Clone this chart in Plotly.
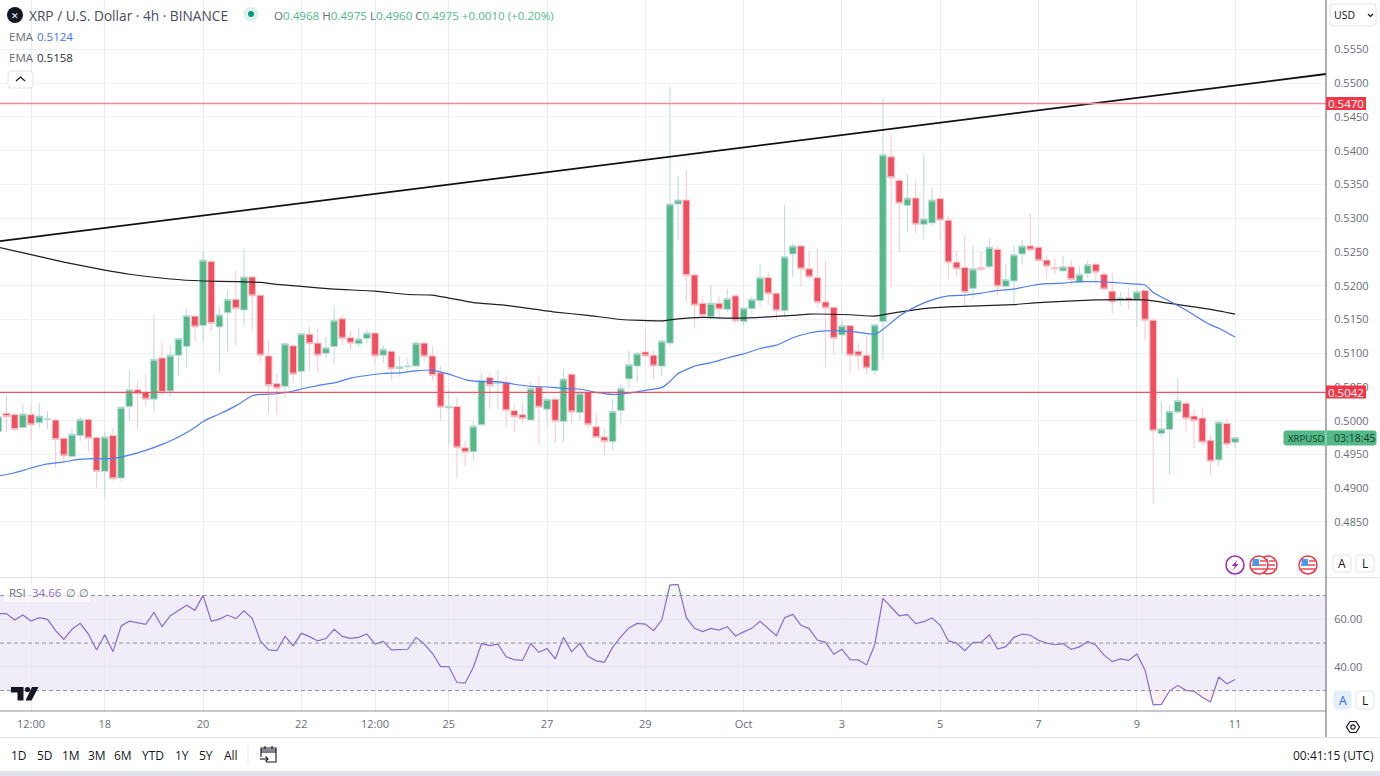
import pandas as pd
import plotly.graph_objects as go

W, H = 1380, 776

START = "2023-09-15 20:00"
OPEN = [
 .4984,.5011,.5009,.4990,.5009,.4997,.5002,.5001,.4974,.4947,
 .4978,.5002,.4975,.4925,.4978,.4915,.5021,.5046,.5042,.5032,
 .5093,.5044,.5097,.5110,.5155,.5141,.5236,.5139,.5160,.5180,
 .5164,.5213,.5186,.5096,.5055,.5051,.5111,.5073,.5128,.5115,
 .5100,.5110,.5151,.5123,.5114,.5122,.5130,.5097,.5103,.5077,
 .5080,.5081,.5115,.5096,.5071,.5019,.5021,.4960,.4954,.4994,
 .5064,.5055,.5057,.5015,.5009,.5001,.5050,.5017,.5032,.4999,
 .5069,.5012,.5042,.4991,.4976,.4969,.5015,.5062,.5081,.5102,
 .5097,.5081,.5115,.5321,.5327,.5216,.5174,.5154,.5174,.5165,
 .5185,.5147,.5166,.5178,.5212,.5189,.5163,.5247,.5259,.5225,
 .5212,.5176,.5168,.5127,.5141,.5103,.5097,.5074,.5147,.5391,
 .5356,.5319,.5330,.5291,.5293,.5329,.5297,.5235,.5227,.5196,
 .5227,.5228,.5254,.5199,.5207,.5247,.5259,.5257,.5238,.5227,
 .5222,.5228,.5205,.5218,.5232,.5217,.5192,.5178,.5182,.5179,
 .5193,.5149,.4981,.4987,.5013,.5026,.5007,.5004,.4971,.4942,
 .4996,.4968]
HIGH = [
 .5011,.5037,.5012,.5024,.5023,.5027,.5014,.5003,.4976,.4989,
 .5006,.5004,.4977,.4983,.4990,.5020,.5075,.5058,.5069,.5157,
 .5115,.5111,.5122,.5166,.5156,.5252,.5239,.5168,.5194,.5222,
 .5255,.5214,.5186,.5119,.5070,.5114,.5112,.5129,.5140,.5137,
 .5124,.5171,.5157,.5134,.5138,.5136,.5130,.5112,.5103,.5096,
 .5094,.5118,.5118,.5111,.5081,.5046,.5035,.4970,.5001,.5070,
 .5070,.5075,.5065,.5024,.5028,.5057,.5065,.5032,.5032,.5077,
 .5070,.5048,.5042,.5012,.4989,.5032,.5055,.5104,.5102,.5133,
 .5104,.5122,.5495,.5362,.5372,.5221,.5184,.5201,.5184,.5195,
 .5186,.5169,.5183,.5232,.5220,.5191,.5320,.5263,.5259,.5251,
 .5256,.5236,.5168,.5148,.5141,.5115,.5127,.5144,.5478,.5424,
 .5359,.5365,.5355,.5394,.5346,.5331,.5302,.5251,.5274,.5259,
 .5250,.5270,.5259,.5232,.5260,.5268,.5307,.5260,.5245,.5241,
 .5244,.5238,.5228,.5237,.5232,.5221,.5218,.5191,.5197,.5195,
 .5196,.5152,.5028,.5023,.5063,.5029,.5017,.5019,.4979,.4999,
 .5002,.4975]
LOW = [
 .4976,.4983,.4984,.4989,.4971,.4989,.4988,.4929,.4938,.4946,
 .4969,.4953,.4901,.4886,.4911,.4910,.5000,.4987,.5022,.5012,
 .5037,.5036,.5067,.5078,.5117,.5117,.5133,.5070,.5103,.5111,
 .5141,.5133,.5088,.5010,.5009,.5033,.5057,.5048,.5074,.5072,
 .5092,.5084,.5111,.5105,.5108,.5115,.5085,.5086,.5060,.5065,
 .5075,.5080,.5087,.5059,.5000,.4964,.4914,.4932,.4942,.4993,
 .5017,.5017,.4990,.4983,.4996,.5001,.4965,.4993,.4967,.4969,
 .4996,.5000,.4988,.4975,.4949,.4957,.4994,.5049,.5056,.5096,
 .5062,.5066,.5110,.5268,.5175,.5139,.5153,.5150,.5151,.5160,
 .5144,.5140,.5157,.5170,.5172,.5150,.5153,.5213,.5198,.5208,
 .5168,.5080,.5097,.5099,.5070,.5074,.5069,.5068,.5092,.5197,
 .5250,.5279,.5278,.5269,.5289,.5268,.5210,.5213,.5170,.5182,
 .5220,.5225,.5186,.5193,.5172,.5231,.5253,.5236,.5211,.5217,
 .5221,.5202,.5204,.5212,.5203,.5193,.5158,.5171,.5165,.5140,
 .5120,.4878,.4976,.4920,.5010,.4983,.4959,.4964,.4920,.4933,
 .4959,.4960]
CLOSE = [
 .5006,.5006,.4987,.5010,.4994,.5007,.5003,.4972,.4948,.4980,
 .5002,.4974,.4925,.4976,.4914,.5020,.5046,.5040,.5032,.5091,
 .5042,.5097,.5122,.5156,.5139,.5238,.5144,.5157,.5180,.5166,
 .5213,.5185,.5097,.5052,.5048,.5114,.5069,.5129,.5114,.5097,
 .5108,.5149,.5122,.5115,.5121,.5130,.5096,.5106,.5077,.5080,
 .5081,.5115,.5095,.5067,.5020,.5021,.4960,.4953,.4992,.5060,
 .5052,.5058,.5015,.5006,.5003,.5048,.5020,.5032,.4999,.5062,
 .5013,.5041,.4994,.4975,.4969,.5014,.5048,.5083,.5100,.5096,
 .5081,.5118,.5321,.5327,.5215,.5171,.5156,.5174,.5165,.5181,
 .5148,.5167,.5180,.5212,.5188,.5163,.5243,.5259,.5225,.5213,
 .5175,.5167,.5122,.5141,.5097,.5096,.5078,.5142,.5394,.5360,
 .5322,.5330,.5291,.5299,.5327,.5297,.5234,.5225,.5190,.5225,
 .5224,.5257,.5199,.5209,.5246,.5259,.5253,.5237,.5229,.5225,
 .5228,.5209,.5217,.5231,.5220,.5195,.5176,.5182,.5178,.5191,
 .5149,.4985,.4988,.5014,.5030,.5003,.5000,.4968,.4940,.4998,
 .4965,.4975]

EMA50_AT = [0,2,4,6,8,10,12,14,16,18,20,22,24,25,27,29,31,32,34,36,37,39,41,43,45,47,49,51,53,55,57,59,61,63,65,67,69,71,73,75,77,79,81,82,
            83,85,87,89,91,93,95,97,99,101,103,105,107,108,110,112,114,116,118,120,122,124,126,128,130,132,134,136,138,140,141,143,145,147,148,149,151]
EMA50 = [.4918,.4923,.4930,.4936,.4939,.4943,.4944,.4944,.4949,.4956,.4965,.4976,.4990,.4999,.5010,.5022,.5037,.5039,.5040,.5044,.5047,.5052,.5056,.5063,.5067,.5070,.5071,.5074,.5075,.5069,.5061,.5058,.5058,.5054,.5051,.5050,.5048,.5047,.5042,.5039,.5041,.5045,.5049,.5058,
         .5070,.5081,.5086,.5093,.5099,.5107,.5112,.5123,.5130,.5133,.5133,.5131,.5128,.5135,.5155,.5169,.5179,.5185,.5186,.5189,.5193,.5195,.5200,.5203,.5204,.5206,.5206,.5205,.5203,.5201,.5190,.5177,.5164,.5149,.5142,.5137,.5124]
EMA200_AT = [0,4,8,13,16,21,25,29,32,34,37,41,46,50,53,58,62,68,72,76,81,83,86,90,97,99,104,107,109,113,115,117,124,127,134,140,144,148,151]
EMA200 = [.5257,.5246,.5235,.5223,.5217,.5210,.5207,.5206,.5205,.5202,.5199,.5195,.5192,.5187,.5186,.5175,.5171,.5161,.5156,.5150,.5148,.5151,.5153,.5152,.5156,.5158,.5157,.5155,.5159,.5166,.5168,.5169,.5172,.5175,.5179,.5179,.5172,.5165,.5158]
RSI = [62.4,62.4,59.7,61.8,59.3,60.7,60.0,55.2,51.6,55.8,58.3,53.8,47.1,53.5,46.4,57.2,59.2,58.7,57.9,62.9,
       56.9,61.5,63.6,65.9,63.8,70.1,59.2,60.1,61.8,60.3,63.6,60.4,50.9,47.1,46.8,52.8,48.9,54.1,52.7,50.9,
       51.9,55.8,52.8,52.0,52.4,53.8,49.6,50.7,47.1,47.2,47.4,52.4,49.6,45.7,40.1,40.1,33.4,33.1,39.8,49.8,
       48.9,49.5,44.2,43.0,42.7,49.8,46.1,47.7,43.3,52.4,46.3,49.9,44.4,42.5,41.9,48.2,52.6,56.4,58.3,58.0,
       55.2,59.7,74.4,74.7,60.7,56.2,54.8,56.2,55.5,56.9,53.0,54.7,56.2,59.2,56.2,53.1,60.7,62.1,57.5,56.1,
       51.3,50.3,45.3,47.4,43.0,42.9,40.8,49.2,68.8,65.2,61.5,62.0,58.2,59.0,60.6,57.5,50.9,50.0,46.8,50.3,
       50.3,53.5,47.5,48.5,52.4,53.8,53.3,51.2,50.0,49.3,49.8,47.4,48.4,50.7,49.1,44.9,42.2,43.3,42.7,45.4,
       38.7,24.0,24.2,29.8,32.2,30.1,29.7,27.2,25.2,35.7,32.9,34.66]

TREND_DATES = ["2023-09-15 20:50", "2023-10-12 20:24"]
TREND_PRICES = [.5266, .55137]
LEVELS = [.5470, .5042]
LEVEL_LABELS = ["0.5470", "0.5042"]
PRICE_TICKS = [.4850,.4900,.4950,.5000,.5050,.5100,.5150,.5200,.5250,.5300,.5350,.5400,.5450,.5500,.5550]
RSI_TICKS = [40, 60]
RSI_BANDS = [70, 50, 30]
DATE_TICKS = ["2023-09-16 12:00","2023-09-18","2023-09-20","2023-09-22","2023-09-23 12:00","2023-09-25","2023-09-27",
              "2023-09-29","2023-10-01","2023-10-03","2023-10-05","2023-10-07","2023-10-09","2023-10-11"]
DATE_LABELS = ["12:00","18","20","22","12:00","25","27","29","Oct","3","5","7","9","11"]
RANGES = ["1D","5D","1M","3M","6M","YTD","1Y","5Y","All"]
RANGE_X = [19,45,71,97,123,153,182,206,231]

UP, DOWN = "#53b987", "#ef4f5f"
UP_WICK, DOWN_WICK = "#bcdadb", "#f9c6cc"
GRID = "#eef2f6"
FONT = "Open Sans"
TXT = "#6a6d78"

dates = pd.date_range(START, periods=len(OPEN), freq="4h")
ema50_x = [dates[i] for i in EMA50_AT]
ema200_x = [dates[i] for i in EMA200_AT]

fig = go.Figure()
fig.add_trace(go.Scatter(x=ema200_x, y=EMA200, mode="lines", line=dict(color="#1f1f24", width=1.2, shape="spline", smoothing=.4), xaxis="x", yaxis="y"))
fig.add_trace(go.Scatter(x=ema50_x, y=EMA50, mode="lines", line=dict(color="#4d7ef7", width=1.2, shape="spline", smoothing=.4), xaxis="x", yaxis="y"))
fig.add_trace(go.Candlestick(x=dates, open=OPEN, high=HIGH, low=LOW, close=CLOSE, xaxis="x", yaxis="y", whiskerwidth=0,
    increasing=dict(line=dict(color=UP_WICK, width=1), fillcolor=UP),
    decreasing=dict(line=dict(color=DOWN_WICK, width=1), fillcolor=DOWN)))
fig.add_trace(go.Scatter(x=TREND_DATES, y=TREND_PRICES, mode="lines", line=dict(color="#111111", width=1.8), xaxis="x", yaxis="y"))

# RSI pane
fig.add_trace(go.Scatter(x=dates, y=[70]*len(RSI), mode="lines", line=dict(width=0), xaxis="x2", yaxis="y2"))
fig.add_trace(go.Scatter(x=dates, y=[max(v, 70) for v in RSI], mode="lines", line=dict(width=0), fill="tonexty", fillcolor="rgba(76,175,80,.08)", xaxis="x2", yaxis="y2"))
fig.add_trace(go.Scatter(x=dates, y=[30]*len(RSI), mode="lines", line=dict(width=0), xaxis="x2", yaxis="y2"))
fig.add_trace(go.Scatter(x=dates, y=[min(v, 30) for v in RSI], mode="lines", line=dict(width=0), fill="tonexty", fillcolor="rgba(242,54,69,.07)", xaxis="x2", yaxis="y2"))
fig.add_trace(go.Scatter(x=dates, y=RSI, mode="lines", line=dict(color="#8a6bd1", width=1.2), xaxis="x2", yaxis="y2"))

def px(x): return x / W
def py(y): return 1 - y / H

shapes, notes = [], []

def rect(x0, y0, x1, y1, fill=None, line=None, lw=1):
    shapes.append(dict(type="rect", xref="paper", yref="paper", x0=px(x0), x1=px(x1), y0=py(y0), y1=py(y1),
                       fillcolor=fill or "rgba(0,0,0,0)", line=dict(color=line or "rgba(0,0,0,0)", width=lw if line else 0), layer="above"))

def seg(x0, y0, x1, y1, color, lw=1, dash=None):
    shapes.append(dict(type="line", xref="paper", yref="paper", x0=px(x0), x1=px(x1), y0=py(y0), y1=py(y1),
                       line=dict(color=color, width=lw, dash=dash), layer="above"))

def circle(cx, cy, r, fill=None, line=None, lw=1):
    shapes.append(dict(type="circle", xref="paper", yref="paper", x0=px(cx-r), x1=px(cx+r), y0=py(cy-r), y1=py(cy+r),
                       fillcolor=fill or "rgba(0,0,0,0)", line=dict(color=line or "rgba(0,0,0,0)", width=lw if line else 0), layer="above"))

def poly(points, fill=None, line=None, lw=1, close=True):
    d = "M" + " L".join(f"{px(x):.5f},{py(y):.5f}" for x, y in points) + (" Z" if close else "")
    shapes.append(dict(type="path", xref="paper", yref="paper", path=d, fillcolor=fill or "rgba(0,0,0,0)",
                       line=dict(color=line or "rgba(0,0,0,0)", width=lw if line else 0), layer="above"))

def rrect(x0, y0, x1, y1, fill="#ffffff", line="#e0e3eb", r=3):
    P = lambda x, y: f"{px(x):.5f},{py(y):.5f}"
    d = (f"M{P(x0+r,y0)} L{P(x1-r,y0)} Q{P(x1,y0)} {P(x1,y0+r)} L{P(x1,y1-r)} Q{P(x1,y1)} {P(x1-r,y1)} "
         f"L{P(x0+r,y1)} Q{P(x0,y1)} {P(x0,y1-r)} L{P(x0,y0+r)} Q{P(x0,y0)} {P(x0+r,y0)} Z")
    shapes.append(dict(type="path", xref="paper", yref="paper", path=d, fillcolor=fill, line=dict(color=line, width=1), layer="above"))

def txt(x, y, text, size=12, color=TXT, anchor="left"):
    notes.append(dict(x=px(x), y=py(y), xref="paper", yref="paper", text=text, showarrow=False, xanchor=anchor, yanchor="middle",
                      font=dict(family=FONT, size=size, color=color), borderpad=0))

# data-anchored guide shapes
for v, c, lw in zip(LEVELS, ["#f58a93", "#f2515f"], [1.3, 1.2]):
    shapes.append(dict(type="line", xref="x domain", yref="y", x0=0, x1=1, y0=v, y1=v, line=dict(color=c, width=lw), layer="above"))
shapes.append(dict(type="rect", xref="x2 domain", yref="y2", x0=0, x1=1, y0=RSI_BANDS[2], y1=RSI_BANDS[0],
                   fillcolor="rgba(126,87,194,.115)", line=dict(width=0), layer="below"))
for v in RSI_BANDS:
    shapes.append(dict(type="line", xref="x2 domain", yref="y2", x0=0, x1=1, y0=v, y1=v, line=dict(color="#8f919b", width=1, dash="4px,3px"), layer="above"))

# frame
seg(0, 577.5, 1380, 577.5, "#e0e3eb")
seg(0, 711, 1326, 711, "#b2b5be", 1.5)
seg(0, 737.5, 1380, 737.5, "#e0e3eb")
seg(1326, 0, 1326, 737, "#5d606b")
rect(0, 771, 1380, 776, fill="#e0e3eb")

# price labels
for v, lab, yc in zip(LEVELS, LEVEL_LABELS, [103.5, 392]):
    rect(1326, yc-6.5, 1366, yc+6.5, fill="#f23645")
    txt(1346, yc, lab, 11.5, "#ffffff", "center")
rrect(1284, 431, 1376, 445, fill=UP, line=UP, r=2)
seg(1326, 431, 1326, 445, "#bfe3d2")
txt(1287, 438, "XRPUSD", 9.6, "#163a2c")
txt(1333, 438, "03:18:45", 10.5, "#163a2c")

# header
circle(15, 15, 8, fill="#131722")
txt(15, 15, "✕", 9, "#ffffff", "center")
txt(28, 15, "XRP / U.S. Dollar · 4h · BINANCE", 13.7, "#4a4e5a")
circle(251, 14, 7.5, fill="#dff2ee")
circle(251, 14, 3, fill="#089981")
val = lambda s: f"<span style='color:#53b987'>{s}</span>"
txt(273, 15, "O" + val("0.4968") + " H" + val("0.4975") + " L" + val("0.4960") + " C" + val("0.4975") + " " + val("+0.0010 (+0.20%)"), 11.6, "#6a6d78")
txt(8, 36, "EMA", 11.5, TXT)
txt(36, 36, "0.5124", 11.5, "#3d6ff0")
txt(8, 58, "EMA", 11.5, TXT)
txt(36, 58, "0.5158", 11.5, "#2a2e39")
rrect(8, 71, 33, 88)
poly([(16, 81), (20.5, 77), (25, 81)], line="#131722", lw=1.2, close=False)

# USD box
rrect(1330, 4, 1376, 26)
txt(1333, 15, "USD", 10.5, "#131722")
poly([(1368, 14), (1370.5, 16.5), (1373, 14)], line="#131722", lw=1.2, close=False)

# A / L buttons
rrect(1333, 555, 1351, 572)
txt(1342, 563.5, "A", 12, "#131722", "center")
rrect(1356, 555, 1374, 572)
txt(1365, 563.5, "L", 12, "#131722", "center")
rrect(1334, 691, 1351, 709, fill="#e3effd", line="#e3effd")
txt(1342.5, 700, "A", 12, "#2962ff", "center")
rrect(1356, 691, 1374, 709)
txt(1365, 700, "L", 12, "#131722", "center")

# event icons
circle(1235, 565, 9, fill="#ffffff", line="#9c27b0", lw=1.5)
poly([(1237.5, 559.5), (1232, 566), (1235, 566), (1233, 570.5), (1238.5, 564), (1235.5, 564)], fill="#9c27b0")
def flag(cx, cy):
    circle(cx, cy, 9, fill="#ffffff", line="#f23645", lw=1.5)
    for dy in (0, 4):
        seg(cx-7, cy+dy, cx+7, cy+dy, "#f2545f", 1.6)
    rect(cx-6.5, cy-6, cx, cy+1, fill="#4a9be8")
    seg(cx+1, cy-4, cx+7, cy-4, "#f2545f", 1.6)
flag(1268, 565)
flag(1259, 565)
flag(1308, 565)

# logo
poly([(11, 687), (23.5, 687), (23.5, 700.5), (17.5, 700.5), (17.5, 692.5), (11, 692.5)], fill="#131722")
circle(27.5, 689.5, 2.6, fill="#131722")
poly([(32, 687), (38.5, 687), (31.5, 700.5), (25.5, 700.5)], fill="#131722")

# RSI legend
rect(4, 585, 90, 602, fill="rgba(255,255,255,.65)")
txt(8, 592, "RSI", 11.5, TXT)
txt(31, 592, "34.66", 11.5, "#8a6bd1")
txt(65, 592, "∅ ∅", 11, TXT)

# settings icon
poly([(1346.5, 727), (1350, 721.5), (1356, 721.5), (1359.5, 727), (1356, 732.5), (1350, 732.5)], line="#131722", lw=1.2)
circle(1353, 727, 2.2, line="#131722", lw=1.2)

# bottom bar
for lab, x in zip(RANGES, RANGE_X):
    txt(x, 755, lab, 12, "#131722", "center")
seg(248, 745, 248, 765, "#e0e3eb")
poly([(261, 750), (276, 750), (276, 762), (266, 762)], line="#131722", lw=1.1, close=False)
poly([(261, 757), (261, 748), (276, 748), (276, 750)], line="#131722", lw=1.1, close=False)
seg(261, 752, 276, 752, "#131722", 1.1)
seg(265, 746, 265, 749, "#131722", 1.1)
seg(272, 746, 272, 749, "#131722", 1.1)
poly([(260, 759), (268, 759)], line="#131722", lw=1.1, close=False)
poly([(265.5, 756.5), (268, 759), (265.5, 761.5)], line="#131722", lw=1.1, close=False)
txt(1375, 755, "00:41:15 (UTC)", 12, "#131722", "right")

x_range = [TREND_DATES[0], TREND_DATES[1]]
xcommon = dict(type="date", range=x_range, tickmode="array", tickvals=DATE_TICKS, ticktext=DATE_LABELS,
               showgrid=True, gridcolor="#e6edf2", gridwidth=1, zeroline=False, showline=False)
fig.update_layout(
    width=W, height=H, margin=dict(l=0, r=0, t=0, b=0), paper_bgcolor="#ffffff", plot_bgcolor="#ffffff",
    showlegend=False, boxgap=0.18, boxgroupgap=0, hovermode=False,
    font=dict(family=FONT, size=11, color=TXT),
    xaxis=dict(domain=[0, 1326/W], anchor="y", showticklabels=False, ticks="", rangeslider=dict(visible=False), **xcommon),
    xaxis2=dict(domain=[0, 1326/W], anchor="y2", ticks="outside", ticklen=3, tickcolor="rgba(0,0,0,0)",
                tickfont=dict(family=FONT, size=11, color=TXT), **xcommon),
    yaxis=dict(domain=[py(577), 1], anchor="x", side="right", range=[.47685, .56233], tickmode="array", tickvals=PRICE_TICKS,
               tickformat=".4f", showgrid=True, gridcolor=GRID, zeroline=False, ticks="outside", ticklen=5,
               tickcolor="rgba(0,0,0,0)", tickfont=dict(family=FONT, size=11, color=TXT)),
    yaxis2=dict(domain=[py(711), py(578)], anchor="x2", side="right", range=[21.4, 77.4], tickmode="array", tickvals=RSI_TICKS,
                tickformat=".2f", showgrid=True, gridcolor="#e4e5f0", zeroline=False, ticks="outside", ticklen=5,
                tickcolor="rgba(0,0,0,0)", tickfont=dict(family=FONT, size=11, color=TXT)),
    shapes=shapes, annotations=notes,
)
fig.write_html("out.html", config=dict(displayModeBar=False), post_script="document.body.style.margin='0';document.body.style.overflow='hidden';")
